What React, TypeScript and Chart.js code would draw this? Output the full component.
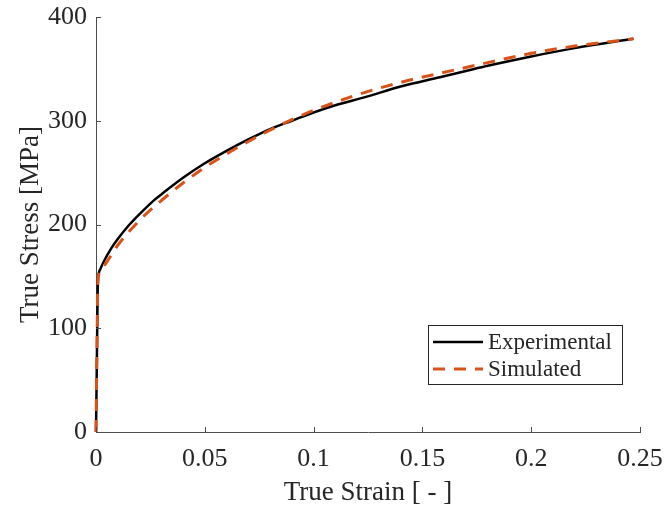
import React, { useEffect, useRef } from "react";
import { Chart, registerables } from "chart.js";

Chart.register(...registerables);

const FONT = '"Liberation Serif", "Times New Roman", serif';

const expStrain = [0, 0.0004, 0.0008, 0.0012, 0.002, 0.004, 0.007, 0.01, 0.015, 0.02, 0.027, 0.03, 0.04, 0.05, 0.06, 0.07, 0.08, 0.09, 0.1, 0.11, 0.124, 0.14, 0.158, 0.17, 0.18, 0.2, 0.22, 0.247];
const expStress = [0, 70, 140, 152, 157, 166, 177, 186, 199, 210, 224, 229, 245, 259, 271, 282, 292, 300, 308, 315, 323, 333, 342, 348, 353, 362, 370, 379];

const simStrain = [0, 0.0004, 0.0008, 0.0012, 0.002, 0.005, 0.01, 0.02, 0.03, 0.04, 0.05, 0.06, 0.07, 0.08, 0.09, 0.1, 0.12, 0.14, 0.165, 0.18, 0.2, 0.22, 0.247];
const simStress = [0, 70, 140, 151, 155, 164, 180, 204, 223, 240, 255, 268, 280, 291, 301, 310, 325, 337, 349, 356, 365, 372, 379];

const seriesLabels = ["Experimental", "Simulated"];
const xTicks = [0, 0.05, 0.1, 0.15, 0.2, 0.25];
const yTicks = [0, 100, 200, 300, 400];

const AXIS = "#4d4d4d";
const TEXT = "#262626";
const ORANGE = "#D95319";

export default function App() {
  const ref = useRef<HTMLCanvasElement>(null);

  useEffect(() => {
    document.body.style.margin = "0";
    const canvas = ref.current!;
    const extras = {
      id: "extras",
      afterDraw(chart: any) {
        const ctx = chart.ctx as CanvasRenderingContext2D;
        const xs = chart.scales.x;
        const ys = chart.scales.y;
        const area = chart.chartArea;
        ctx.save();
        ctx.strokeStyle = AXIS;
        ctx.lineWidth = 1;
        ctx.beginPath();
        xTicks.forEach((v) => {
          const px = Math.round(xs.getPixelForValue(v)) + 0.5;
          ctx.moveTo(px, area.bottom);
          ctx.lineTo(px, area.bottom - 5);
        });
        yTicks.forEach((v) => {
          const py = Math.round(ys.getPixelForValue(v)) + 0.5;
          ctx.moveTo(area.left, py);
          ctx.lineTo(area.left + 5, py);
        });
        ctx.stroke();
        ctx.fillStyle = TEXT;
        ctx.font = `27px ${FONT}`;
        ctx.textAlign = "center";
        ctx.textBaseline = "alphabetic";
        ctx.fillText("True Strain [ - ]", (area.left + area.right) / 2, 500);
        ctx.save();
        ctx.translate(38, (area.top + area.bottom) / 2);
        ctx.rotate(-Math.PI / 2);
        ctx.fillText("True Stress [MPa]", 0, 0);
        ctx.restore();
        const bx = 428.5, by = 325.5, bw = 194, bh = 59;
        ctx.fillStyle = "#fff";
        ctx.fillRect(bx, by, bw, bh);
        ctx.strokeStyle = "#262626";
        ctx.lineWidth = 1;
        ctx.strokeRect(bx, by, bw, bh);
        const rows = [342, 369];
        chart.data.datasets.forEach((ds: any, i: number) => {
          ctx.save();
          ctx.strokeStyle = ds.borderColor;
          ctx.lineWidth = ds.borderWidth;
          ctx.setLineDash(ds.borderDash || []);
          ctx.beginPath();
          ctx.moveTo(433, rows[i]);
          ctx.lineTo(483, rows[i]);
          ctx.stroke();
          ctx.restore();
          ctx.fillStyle = TEXT;
          ctx.font = `23px ${FONT}`;
          ctx.textAlign = "left";
          ctx.textBaseline = "middle";
          ctx.fillText(ds.label, 488, rows[i] + 1);
        });
        ctx.restore();
      },
    };

    const zeroPad = (s: any) => {
      s.paddingTop = 0;
      s.paddingBottom = 0;
      s.paddingLeft = 0;
      s.paddingRight = 0;
    };

    const chart = new Chart(canvas, {
      type: "line",
      data: {
        datasets: [
          {
            label: seriesLabels[0],
            data: expStrain.map((x, i) => ({ x, y: expStress[i] })),
            borderColor: "#000000",
            borderWidth: 2.5,
            pointRadius: 0,
            cubicInterpolationMode: "monotone",
            clip: false as any,
            order: 2,
          },
          {
            label: seriesLabels[1],
            data: simStrain.map((x, i) => ({ x, y: simStress[i] })),
            borderColor: ORANGE,
            borderWidth: 3,
            borderDash: [12, 9],
            pointRadius: 0,
            cubicInterpolationMode: "monotone",
            clip: false as any,
            order: 1,
          },
        ],
      },
      plugins: [extras],
      options: {
        animation: false,
        responsive: false,
        layout: { padding: { left: 0, top: 17, right: 26, bottom: 0 } },
        plugins: { legend: { display: false }, tooltip: { enabled: false } },
        scales: {
          x: {
            type: "linear",
            min: 0,
            max: 0.25,
            afterFit: (s: any) => {
              s.height = 77;
              zeroPad(s);
            },
            afterBuildTicks: (s: any) => {
              s.ticks = xTicks.map((v) => ({ value: v }));
            },
            ticks: {
              color: TEXT,
              font: { family: FONT, size: 26 },
              padding: 12,
              maxRotation: 0,
              callback: (v: any) => String(Number(Number(v).toFixed(2))),
            },
            grid: { drawOnChartArea: false, drawTicks: false },
            border: { color: AXIS, width: 1 },
          },
          y: {
            type: "linear",
            min: 0,
            max: 400,
            afterFit: (s: any) => {
              s.width = 96;
              zeroPad(s);
            },
            afterBuildTicks: (s: any) => {
              s.ticks = yTicks.map((v) => ({ value: v }));
            },
            ticks: {
              color: TEXT,
              font: { family: FONT, size: 26 },
              padding: 9,
            },
            grid: { drawOnChartArea: false, drawTicks: false },
            border: { color: AXIS, width: 1 },
          },
        },
      },
    });
    return () => chart.destroy();
  }, []);

  return (
    <div style={{ position: "absolute", left: 0, top: 0, width: 666, height: 509, background: "#fff" }}>
      <canvas ref={ref} width={666} height={509} />
    </div>
  );
}
